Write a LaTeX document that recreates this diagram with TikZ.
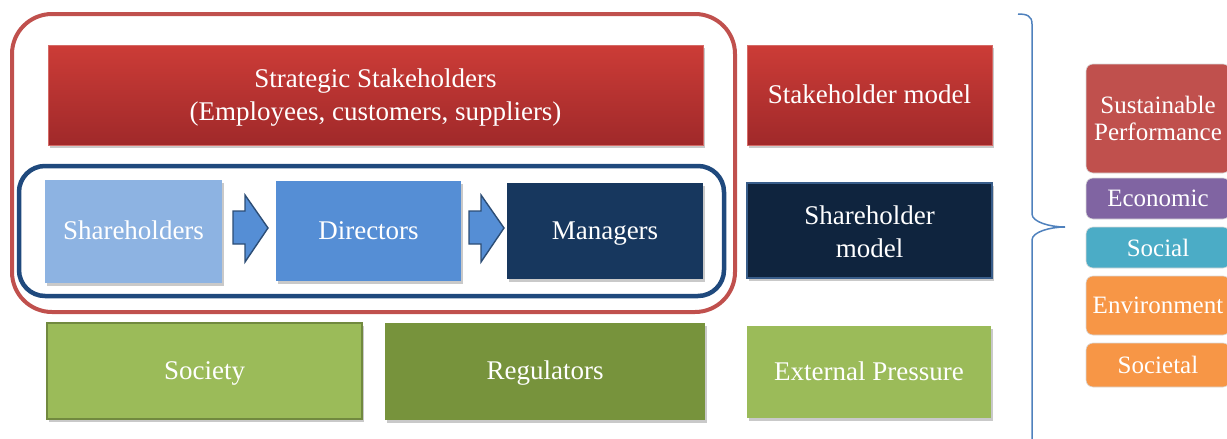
\documentclass[tikz,border=0pt]{standalone}
\usepackage{fontspec}
\setmainfont{Liberation Serif}
\usetikzlibrary{shadows}
\definecolor{frameRed}{HTML}{C0504D}
\definecolor{frameBlue}{HTML}{1F497D}
\definecolor{redTop}{HTML}{CC3C37}
\definecolor{redBot}{HTML}{A0292A}
\definecolor{redEdge}{HTML}{D46A66}
\definecolor{shBlue}{HTML}{8DB3E2}
\definecolor{dirBlue}{HTML}{558ED5}
\definecolor{manBlue}{HTML}{17375E}
\definecolor{shmBlue}{HTML}{0F243E}
\definecolor{shmEdge}{HTML}{385D8A}
\definecolor{arrowEdge}{HTML}{2C4D75}
\definecolor{lgreen}{HTML}{9BBB59}
\definecolor{dgreen}{HTML}{77933C}
\definecolor{gEdge}{HTML}{71893F}
\definecolor{spRed}{HTML}{C0504D}
\definecolor{ecoPurple}{HTML}{8064A2}
\definecolor{socAqua}{HTML}{4BACC6}
\definecolor{envOrange}{HTML}{F79646}
\definecolor{braceBlue}{HTML}{4F81BD}
\begin{document}
\begin{tikzpicture}[x=1pt,y=-1pt,
  box/.style={rectangle, inner sep=2pt, text=white, align=center,
    font=\fontsize{27}{33}\selectfont,
    drop shadow={shadow xshift=2pt,shadow yshift=-3pt,opacity=.3,fill=black!70}},
  oneline/.style={text height=20pt, text depth=4pt},
  redbox/.style={box, top color=redTop, bottom color=redBot, draw=redEdge, line width=0.8pt},
  rbox/.style={rectangle, rounded corners=7pt, text=white, align=center,
    font=\fontsize{25}{27}\selectfont, minimum width=144pt, draw=white!85!black, line width=0.6pt},
  blockarrow/.style={fill=dirBlue, draw=arrowEdge, line width=1.4pt, line join=miter},
  frame/.style={rounded corners=#1}
]
\useasboundingbox (0,0) rectangle (1227,439);

% frames
\draw[frame=40pt, draw=frameRed, line width=4pt] (12,14) rectangle (735,312);
\draw[frame=26pt, draw=frameBlue, line width=4.5pt] (19,166) rectangle (724,296);

% left column
\node[redbox, minimum width=655pt, minimum height=100pt] (ss) at (375.5,95)
  {\rule{0pt}{24.5pt}Strategic Stakeholders\\(Employees, customers, suppliers)};
\node[box, oneline, fill=shBlue, minimum width=177pt, minimum height=103pt] (sh) at (133.5,231.5) {Shareholders};
\node[box, oneline, fill=dirBlue, minimum width=185pt, minimum height=100pt] (dir) at (368.5,231) {Directors};
\node[box, oneline, fill=manBlue, minimum width=196pt, minimum height=96pt] (man) at (605,231) {Managers};
% block arrows
\draw[blockarrow] (233,211) -- (245,211) -- (245,195) -- (268,228) -- (245,262) -- (245,244) -- (233,244) -- cycle;
\draw[blockarrow] (469,211) -- (481,211) -- (481,195) -- (504,228) -- (481,262) -- (481,244) -- (469,244) -- cycle;
\node[box, oneline, fill=lgreen, draw=gEdge, line width=2pt, minimum width=315pt, minimum height=96pt] (soc) at (204.5,371) {Society};
\node[box, oneline, fill=dgreen, minimum width=320pt, minimum height=97pt] (reg) at (545,371.5) {Regulators};

% middle column
\node[redbox, oneline, minimum width=245pt, minimum height=100pt] (stm) at (869.5,95) {Stakeholder model};
\node[box, fill=shmBlue, draw=shmEdge, line width=1.5pt, minimum width=245pt, minimum height=95pt] (shm) at (869.5,230.5) {\rule{0pt}{20.5pt}Shareholder\\model};
\node[box, oneline, fill=lgreen, minimum width=244pt, minimum height=92pt] (ext) at (869,372) {External Pressure};

% brace
\coordinate (bt) at (1065,227);
\draw[braceBlue, line width=1.5pt] (1018,14) .. controls (1027,14) and (1032,16) .. (1032,24)
  -- (1032,214) .. controls (1032,222) and (1050,227) .. (bt)
  .. controls (1050,227) and (1032,232) .. (1032,240) -- (1032,445);

% right column
\node[rbox, fill=spRed, minimum height=109pt] (sp) at (1158,118.5) {Sustainable\\Performance};
\node[rbox, fill=ecoPurple, minimum height=41pt] (eco) at (1158,198.5) {Economic};
\node[rbox, fill=socAqua, minimum height=41pt] (socl) at (1158,247.5) {Social};
\node[rbox, fill=envOrange, minimum height=59pt] (env) at (1158,305.5) {Environment};
\node[rbox, fill=envOrange, minimum height=44pt] (sctl) at (1158,365) {Societal};
\end{tikzpicture}
\end{document}
